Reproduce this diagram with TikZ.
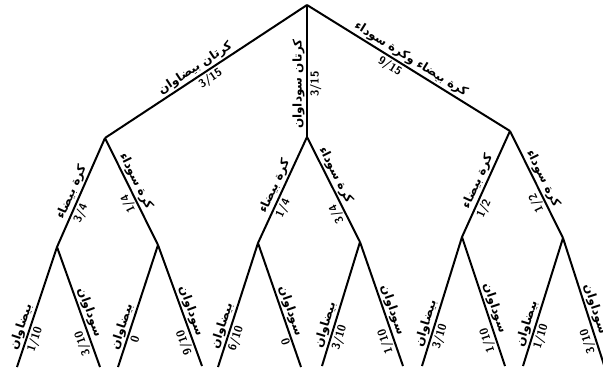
\documentclass[tikz,border=0pt]{standalone}
\usepackage{fontspec}
\usepackage{tikz}
\newfontfamily\arabicfont[Script=Arabic]{DejaVu Sans}
\TeXXeTstate=1
\newcommand{\artxt}[1]{{\arabicfont\bfseries\beginR #1\endR}}

\tikzset{
  branch/.style={line width=2pt},
  lab/.style={font=\fontsize{12}{14}\selectfont, sloped, allow upside down, inner sep=1.5pt},
  num/.style={font=\sffamily\bfseries\fontsize{11.5}{13}\selectfont, sloped, allow upside down, inner sep=2pt},
}

\begin{document}
\begin{tikzpicture}[x=1pt, y=-1pt]
        \clip (0,0) rectangle (603,377);

        % Tree nodes
        \coordinate (root) at (307, 5);
        \coordinate (a) at (105, 138);
        \coordinate (b) at (307, 137);
        \coordinate (c) at (510, 131);

        \coordinate (a1) at (57, 247);
        \coordinate (a2) at (158, 245);
        \coordinate (b1) at (258, 243);
        \coordinate (b2) at (360, 242);
        \coordinate (c1) at (462, 237);
        \coordinate (c2) at (563, 238);

        % Leaves
        \coordinate (a1l) at (17, 367);  \coordinate (a1r) at (100, 367);
        \coordinate (a2l) at (118, 367); \coordinate (a2r) at (202, 366);
        \coordinate (b1l) at (218, 367); \coordinate (b1r) at (301, 367);
        \coordinate (b2l) at (322, 366); \coordinate (b2r) at (403, 366);
        \coordinate (c1l) at (422, 366); \coordinate (c1r) at (505, 366);
        \coordinate (c2l) at (523, 366); \coordinate (c2r) at (605, 368);

        % First draw
        \draw[branch] (a) -- (root)
            node[lab, pos=0.47, above] {\artxt{كرتان بيضاوان}}
            node[num, pos=0.5, below] {3/15};
        \draw[branch] (b) -- (root)
            node[lab, pos=0.4, above] {\artxt{كرتان سوداوان}}
            node[num, pos=0.4, below] {3/15};
        \draw[branch] (root) -- (c)
            node[lab, pos=0.49, above] {\artxt{كرة بيضاء وكرة سوداء}}
            node[num, pos=0.43, below] {9/15};

        % Second draw
        \draw[branch] (a1) -- (a)
            node[lab, pos=0.47, above] {\artxt{كرة بيضاء}}
            node[num, pos=0.34, below] {3/4};
        \draw[branch] (a) -- (a2)
            node[lab, pos=0.44, above] {\artxt{كرة سوداء}};
        \path (a2) -- (a) node[num, pos=0.42, above] {1/4};
        \draw[branch] (b1) -- (b)
            node[lab, pos=0.5, above] {\artxt{كرة بيضاء}}
            node[num, pos=0.36, below] {1/4};
        \draw[branch] (b) -- (b2)
            node[lab, pos=0.4, above] {\artxt{كرة سوداء}};
        \path (b2) -- (b) node[num, pos=0.3, above] {3/4};
        \draw[branch] (c1) -- (c)
            node[lab, pos=0.49, above] {\artxt{كرة بيضاء}}
            node[num, pos=0.3, below] {1/2};
        \draw[branch] (c) -- (c2)
            node[lab, pos=0.48, above] {\artxt{كرة سوداء}};
        \path (c2) -- (c) node[num, pos=0.36, above] {1/2};

        % Final outcomes
        \foreach \p/\l/\r in {a1/1\slash10/3\slash10, a2/0/9\slash10, b1/6\slash10/0,
                              b2/3\slash10/1\slash10, c1/3\slash10/1\slash10, c2/1\slash10/3\slash10} {
            \draw[branch] (\p l) -- (\p)
                node[lab, pos=0.31, above] {\artxt{بيضاوان}}
                node[num, pos=0.25, below] {\l};
            \draw[branch] (\p) -- (\p r)
                node[lab, pos=0.57, above] {\artxt{سوداوان}};
            \path (\p r) -- (\p) node[num, pos=0.22, above] {\r};
        }
    \end{tikzpicture}
\end{document}
